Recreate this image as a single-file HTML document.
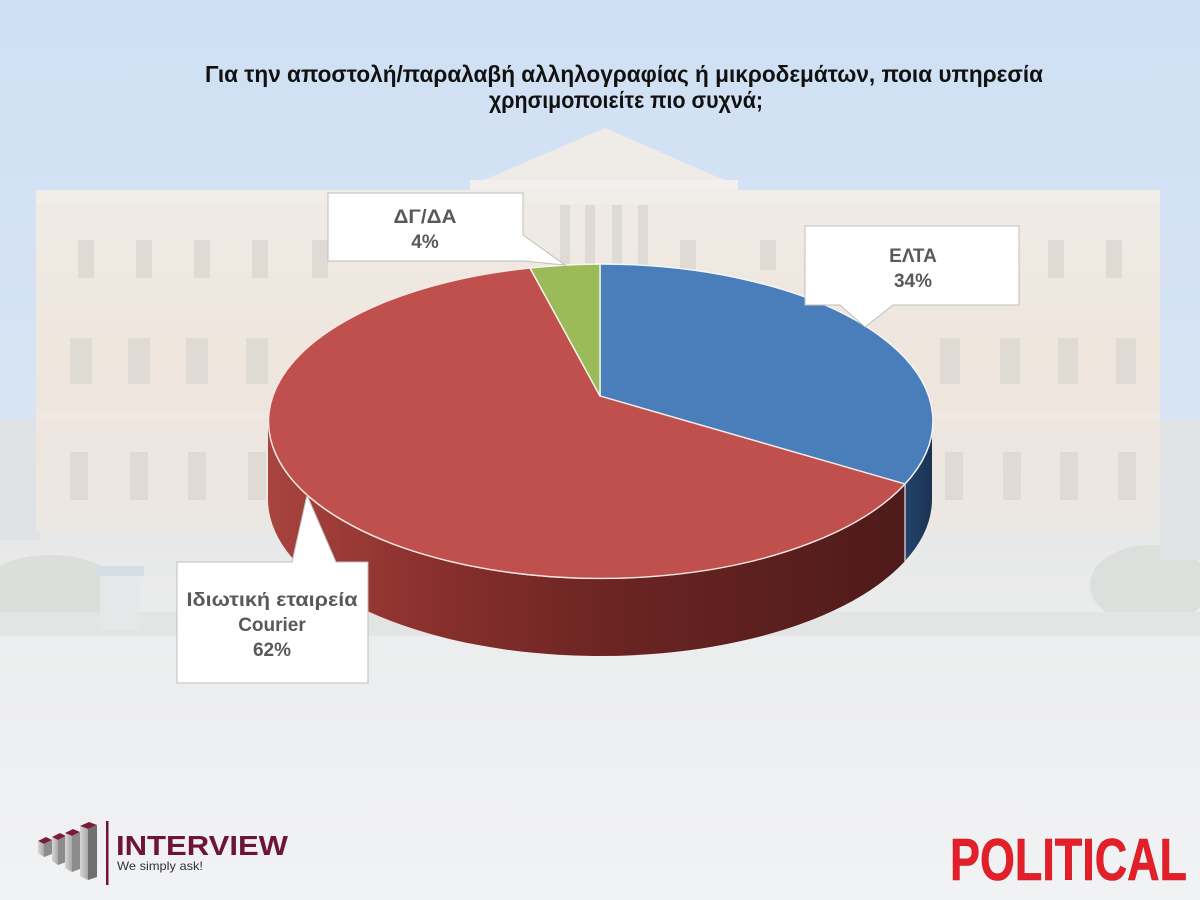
<!DOCTYPE html>
<html>
<head>
<meta charset="utf-8">
<style>
  html,body{margin:0;padding:0;background:#eef0f2;}
  svg{display:block;}
</style>
</head>
<body>
<svg width="1200" height="900" viewBox="0 0 1200 900" xmlns="http://www.w3.org/2000/svg">
  <defs>
    <linearGradient id="sky" x1="0" y1="0" x2="0" y2="1">
      <stop offset="0" stop-color="#d0e0f4"/>
      <stop offset="0.6" stop-color="#d8e5f3"/>
      <stop offset="1" stop-color="#e0e8f1"/>
    </linearGradient>
    <linearGradient id="ground" x1="0" y1="0" x2="0" y2="1">
      <stop offset="0" stop-color="#e6e7e7"/>
      <stop offset="0.3" stop-color="#ecedee"/>
      <stop offset="1" stop-color="#f1f2f4"/>
    </linearGradient>
    <linearGradient id="facade" x1="0" y1="0" x2="0" y2="1">
      <stop offset="0" stop-color="#efebe6"/>
      <stop offset="0.5" stop-color="#efe6dd"/>
      <stop offset="1" stop-color="#ebe7e3"/>
    </linearGradient>
    <linearGradient id="redside" gradientUnits="userSpaceOnUse" x1="268" y1="0" x2="905" y2="0">
      <stop offset="0" stop-color="#a9443f"/>
      <stop offset="0.25" stop-color="#8a302d"/>
      <stop offset="0.55" stop-color="#6a2422"/>
      <stop offset="1" stop-color="#4e1b1a"/>
    </linearGradient>
    <linearGradient id="blueside" gradientUnits="userSpaceOnUse" x1="905" y1="0" x2="932" y2="0">
      <stop offset="0" stop-color="#24436b"/>
      <stop offset="1" stop-color="#1b3252"/>
    </linearGradient>
    <linearGradient id="barfront" x1="0" y1="0" x2="1" y2="0">
      <stop offset="0" stop-color="#d6d6d6"/>
      <stop offset="1" stop-color="#a8a8a8"/>
    </linearGradient>
  </defs>

  <!-- background photo approximation -->
  <rect x="0" y="0" width="1200" height="900" fill="url(#sky)"/>
  <rect x="0" y="520" width="1200" height="380" fill="url(#ground)"/>

  <!-- trees left / right -->
  <rect x="0" y="420" width="40" height="120" fill="#e0e3e5"/>
  <ellipse cx="50" cy="590" rx="70" ry="35" fill="#dcdeda"/>
  <ellipse cx="1150" cy="585" rx="60" ry="40" fill="#dddfdc"/>
  <rect x="1160" y="420" width="40" height="140" fill="#e1e4e6"/>

  <!-- building -->
  <rect x="36" y="192" width="1124" height="340" fill="url(#facade)"/>
  <rect x="36" y="190" width="1124" height="14" fill="#f1eeea"/>
  <rect x="36" y="296" width="1124" height="6" fill="#eee9e4"/>
  <rect x="36" y="412" width="1124" height="6" fill="#eee9e4"/>
  <!-- pediment -->
  <polygon points="470,186 605,128 738,186" fill="#efece8"/>
  <rect x="470" y="180" width="268" height="10" fill="#f2efec"/>
  <!-- portico columns -->
  <g fill="#dedad6">
    <rect x="560" y="205" width="10" height="60"/>
    <rect x="585" y="205" width="10" height="60"/>
    <rect x="612" y="205" width="10" height="60"/>
    <rect x="638" y="205" width="10" height="60"/>
  </g>
  <!-- windows -->
  <g fill="#e0dad4">
    <rect x="78" y="240" width="16" height="38"/>
    <rect x="136" y="240" width="16" height="38"/>
    <rect x="194" y="240" width="16" height="38"/>
    <rect x="252" y="240" width="16" height="38"/>
    <rect x="312" y="240" width="16" height="38"/>
    <rect x="70" y="338" width="22" height="46"/>
    <rect x="128" y="338" width="22" height="46"/>
    <rect x="186" y="338" width="22" height="46"/>
    <rect x="246" y="338" width="22" height="46"/>
    <rect x="70" y="452" width="18" height="48"/>
    <rect x="130" y="452" width="18" height="48"/>
    <rect x="188" y="452" width="18" height="48"/>
    <rect x="248" y="452" width="18" height="48"/>
    <rect x="1048" y="240" width="16" height="38"/>
    <rect x="1106" y="240" width="16" height="38"/>
    <rect x="680" y="240" width="16" height="30"/>
    <rect x="760" y="240" width="16" height="30"/>
    <rect x="940" y="338" width="20" height="46"/>
    <rect x="1000" y="338" width="20" height="46"/>
    <rect x="1058" y="338" width="20" height="46"/>
    <rect x="1116" y="338" width="20" height="46"/>
    <rect x="945" y="452" width="18" height="48"/>
    <rect x="1003" y="452" width="18" height="48"/>
    <rect x="1060" y="452" width="18" height="48"/>
    <rect x="1118" y="452" width="18" height="48"/>
  </g>
  <!-- lower plaza band -->
  <rect x="0" y="612" width="1200" height="24" fill="#e3e4e4"/>
  <rect x="100" y="570" width="40" height="60" fill="#e5e7e9"/>
  <rect x="96" y="566" width="48" height="10" fill="#d5dce5"/>

  <!-- title -->
  <g font-family="'Liberation Sans', 'DejaVu Sans', sans-serif" font-weight="bold" font-size="23" fill="#111">
    <text x="205" y="82" textLength="838" lengthAdjust="spacingAndGlyphs">Για την αποστολή/παραλαβή αλληλογραφίας ή μικροδεμάτων, ποια υπηρεσία</text>
    <text x="489" y="108" textLength="274" lengthAdjust="spacingAndGlyphs">χρησιμοποιείτε πιο συχνά;</text>
  </g>

  <!-- pie sides -->
  <path d="M268,421 A332,157 0 0 0 905,484 L905,561 A332,157 0 0 1 268,498 Z" fill="url(#redside)"/>
  <path d="M905,484 A332,157 0 0 0 932,421 L932,498 A332,157 0 0 1 905,561 Z" fill="url(#blueside)"/>
  <line x1="905" y1="484" x2="905" y2="561" stroke="#f0e6e0" stroke-width="1.2"/>

  <!-- pie top -->
  <path d="M600,396 L600,264 A332,157 0 0 1 905,484 Z" fill="#4a7ebb" stroke="#f4f8fc" stroke-width="1.4" stroke-linejoin="round"/>
  <path d="M600,396 L905,484 A332,157 0 1 1 530,268 Z" fill="#c0504d" stroke="#f8e9e4" stroke-width="1.4" stroke-linejoin="round"/>
  <path d="M600,396 L530,268 A332,157 0 0 1 600,264 Z" fill="#9bbb59" stroke="#f6f8ee" stroke-width="1.4" stroke-linejoin="round"/>

  <!-- callouts -->
  <g fill="#ffffff" stroke="#bfbfbf" stroke-width="1">
    <polygon points="328,193 523,193 523,235 565,265 523,261 328,261"/>
    <polygon points="805,226 1019,226 1019,305 893,305 865,327 840,305 805,305"/>
    <polygon points="177,562 292,562 307,495 336,562 368,562 368,683 177,683"/>
  </g>
  <g font-family="'Liberation Sans', 'DejaVu Sans', sans-serif" font-weight="bold" font-size="19" fill="#595959" text-anchor="middle">
    <text x="425" y="223" textLength="63" lengthAdjust="spacingAndGlyphs">ΔΓ/ΔΑ</text>
    <text x="425" y="248">4%</text>
    <text x="913" y="262">ΕΛΤΑ</text>
    <text x="913" y="287">34%</text>
    <text x="272" y="606" textLength="171" lengthAdjust="spacingAndGlyphs">Ιδιωτική εταιρεία</text>
    <text x="272" y="631">Courier</text>
    <text x="272" y="656">62%</text>
  </g>

  <!-- INTERVIEW logo -->
  <g>
    <polygon points="38,841 46,837 52,840 44,844" fill="#7a1a3c"/>
    <polygon points="38,841 44,844 44,857 38,853" fill="url(#barfront)"/>
    <polygon points="44,844 52,840 52,854 44,857" fill="#8c8c8c"/>
    <polygon points="52,837 60,833 66,836 58,840" fill="#7a1a3c"/>
    <polygon points="52,837 58,840 58,865 52,861" fill="url(#barfront)"/>
    <polygon points="58,840 66,836 66,862 58,865" fill="#8c8c8c"/>
    <polygon points="65,833 73,829 80,832 72,836" fill="#7a1a3c"/>
    <polygon points="65,833 72,836 72,872 65,868" fill="url(#barfront)"/>
    <polygon points="72,836 80,832 80,869 72,872" fill="#8c8c8c"/>
    <polygon points="80,826 89,822 97,825 88,829" fill="#7a1a3c"/>
    <polygon points="80,826 88,829 88,880 80,876" fill="url(#barfront)"/>
    <polygon points="88,829 97,825 97,877 88,880" fill="#6f6f6f"/>
    <rect x="106" y="821" width="2.5" height="64" fill="#6e1437"/>
    <text x="116" y="855" font-family="'Liberation Sans', sans-serif" font-weight="bold" font-size="28" fill="#6e1437" textLength="172" lengthAdjust="spacingAndGlyphs">INTERVIEW</text>
    <text x="117" y="870" font-family="'Liberation Sans', sans-serif" font-size="12" fill="#333" textLength="86" lengthAdjust="spacingAndGlyphs">We simply ask!</text>
  </g>

  <!-- POLITICAL -->
  <text x="950" y="880" font-family="'Liberation Sans', sans-serif" font-weight="bold" font-size="59" fill="#e3202a" stroke="#c81820" stroke-width="0.6" textLength="237" lengthAdjust="spacingAndGlyphs">POLITICAL</text>
</svg>
</body>
</html>
